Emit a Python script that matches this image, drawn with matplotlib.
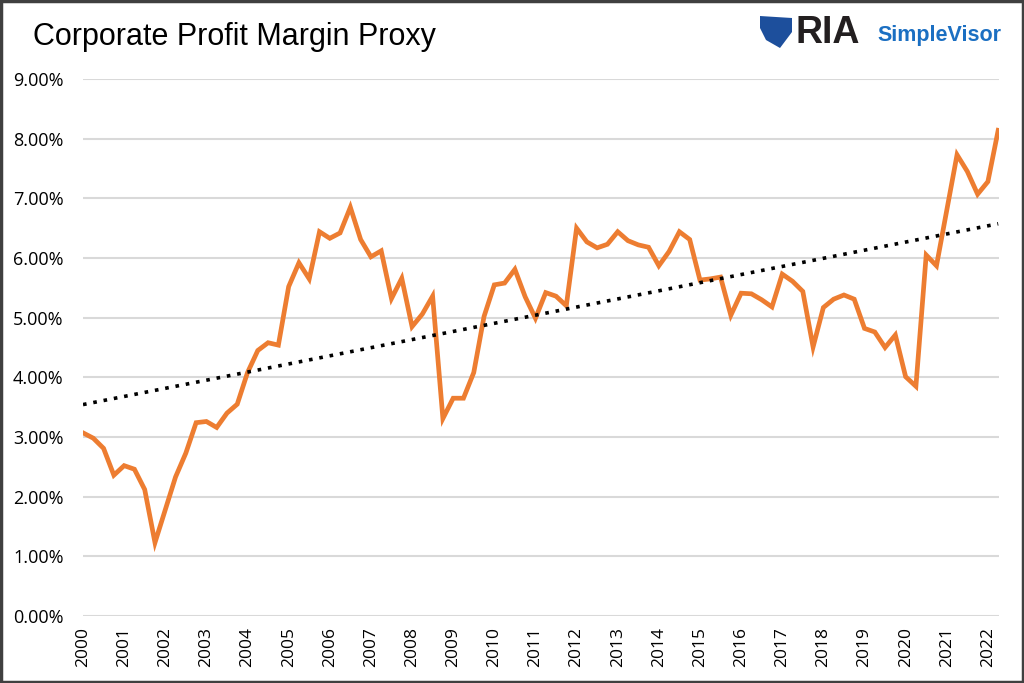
import matplotlib.pyplot as plt
import matplotlib.patches as patches
import numpy as np
from matplotlib.ticker import FuncFormatter

# Quarterly profit margin proxy (%), 2000 Q1 .. 2022 Q2
margin = [3.07, 2.98, 2.81, 2.36, 2.52, 2.46, 2.12, 1.23, 1.78, 2.33,
          2.73, 3.24, 3.26, 3.16, 3.40, 3.55, 4.08, 4.45, 4.58, 4.54,
          5.52, 5.92, 5.65, 6.44, 6.33, 6.42, 6.85, 6.31, 6.02, 6.12,
          5.32, 5.66, 4.85, 5.06, 5.36, 3.31, 3.65, 3.65, 4.08, 5.02,
          5.55, 5.58, 5.81, 5.35, 4.99, 5.42, 5.36, 5.20, 6.50, 6.27,
          6.17, 6.23, 6.44, 6.29, 6.22, 6.18, 5.87, 6.11, 6.44, 6.31,
          5.63, 5.65, 5.68, 5.04, 5.41, 5.40, 5.30, 5.18, 5.73, 5.61,
          5.44, 4.51, 5.17, 5.31, 5.38, 5.31, 4.82, 4.76, 4.50, 4.71,
          4.01, 3.85, 6.05, 5.87, 6.80, 7.73, 7.45, 7.07, 7.28, 8.14]
start_year = 2000
years = list(range(2000, 2023))
y_ticks = [0, 1, 2, 3, 4, 5, 6, 7, 8, 9]

x = start_year + np.arange(len(margin)) * 0.25
y = np.array(margin) / 100

# linear trend line fitted to the series
coef = np.polyfit(x, y, 1)
trend = np.polyval(coef, x)

fig = plt.figure(figsize=(10.24, 6.83), dpi=100)
ax = fig.add_axes([83 / 1024, 1 - 616 / 683, 916 / 1024, 537 / 683])

ax.plot(x, y, color='#ED7D31', linewidth=3.4, solid_joinstyle='miter', zorder=3)
ax.plot(x, trend, color='black', linewidth=2.6, linestyle=(0, (1, 1.9)), zorder=4)

ax.set_xlim(x[0], x[-1] + 0.02)
ax.set_ylim(0, 0.09)
ax.set_yticks([t / 100 for t in y_ticks])
ax.yaxis.set_major_formatter(FuncFormatter(lambda v, p: f'{v * 100:.2f}%'))
ax.set_xticks(years)
ax.set_xticklabels([str(yr) for yr in years], rotation=90, family='Open Sans', fontsize=12.5)
for lab in ax.get_yticklabels():
    lab.set_family('Open Sans')
    lab.set_fontsize(13)
ax.tick_params(axis='both', length=0, colors='#000000')
ax.tick_params(axis='y', pad=14)
ax.tick_params(axis='x', pad=8)
ax.grid(axis='y', color='#d9d9d9', linewidth=1.5)
ax.set_axisbelow(True)
for s in ax.spines.values():
    s.set_visible(False)

# title
fig.text(33 / 1024, 1 - 37 / 683, 'Corporate Profit Margin Proxy', fontsize=22,
         family='Liberation Sans', va='center', ha='left')

# logo
shield = patches.Polygon([(760 / 1024, 1 - 16 / 683), (792 / 1024, 1 - 18 / 683),
                          (792 / 1024, 1 - 32 / 683), (780 / 1024, 1 - 48 / 683),
                          (766 / 1024, 1 - 40 / 683), (760 / 1024, 1 - 28 / 683)],
                         closed=True, transform=fig.transFigure, facecolor='#1d4f9c',
                         edgecolor='none')
fig.patches.append(shield)
fig.text(796 / 1024, 1 - 33 / 683, 'RIA', fontsize=27, family='Liberation Sans',
         weight='bold', color='#231f20', va='center', ha='left')
fig.text(877 / 1024, 1 - 35 / 683, 'SimpleVisor', fontsize=15.5, family='Liberation Sans',
         weight='bold', color='#1b6fc2', va='center', ha='left')

# outer frame
frame = patches.Rectangle((0.001, 0.001), 0.998, 0.997, transform=fig.transFigure,
                          fill=False, edgecolor='#404040', linewidth=2.5)
fig.patches.append(frame)

fig.savefig('out.png', dpi=100)
